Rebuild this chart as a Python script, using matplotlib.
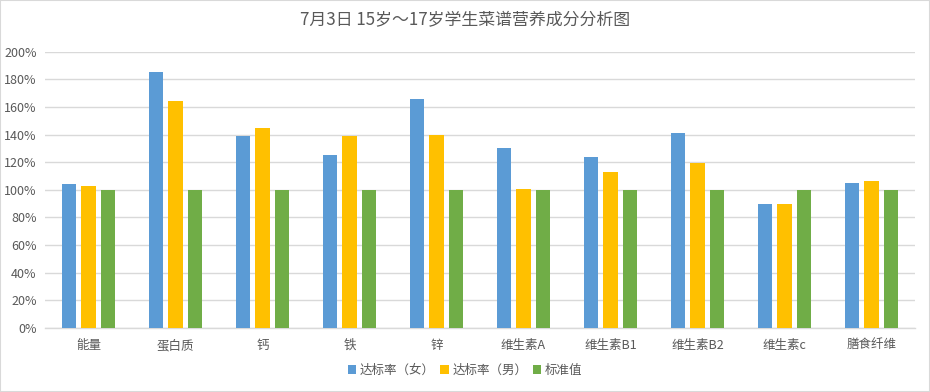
import matplotlib
matplotlib.use("Agg")
import matplotlib.pyplot as plt
import numpy as np
from matplotlib.ticker import FuncFormatter

plt.rcParams['font.family'] = ['Noto Sans CJK SC', 'DejaVu Sans']

categories = ["能量", "蛋白质", "钙", "铁", "锌", "维生素A", "维生素B1", "维生素B2", "维生素c", "膳食纤维"]
female = [104, 185.5, 139, 125, 166, 130, 123.6, 141, 89.5, 104.7]
male = [103, 164.5, 144.7, 139, 139.6, 100.5, 112.7, 119.6, 89.5, 106.2]
standard = [100, 100, 100, 100, 100, 100, 100, 100, 100, 100]
series_names = ["达标率（女）", "达标率（男）", "标准值"]
colors = ["#5B9BD5", "#FFC000", "#70AD47"]

fig = plt.figure(figsize=(9.3, 3.92), dpi=100)
ax = fig.add_axes([45/930, 1-328/392, 870/930, (328-51.7)/392])

x = np.arange(len(categories))
w = 0.172
off = 0.224
for i, (vals, name, c) in enumerate(zip([female, male, standard], series_names, colors)):
    ax.bar(x + (i-1)*off, vals, width=w, color=c, label=name, zorder=3)

ax.set_xlim(-0.5, len(categories)-0.5)
ax.set_ylim(0, 200)
ax.set_yticks(np.arange(0, 201, 20))
ax.yaxis.set_major_formatter(FuncFormatter(lambda v, p: f"{int(v)}%"))
ax.grid(axis='y', color='#d9d9d9', linewidth=1, zorder=0)
for s in ['top', 'right', 'left']:
    ax.spines[s].set_visible(False)
ax.spines['bottom'].set_color('#d9d9d9')
ax.spines['bottom'].set_linewidth(1)
ax.set_xticks(x)
ax.set_xticklabels(categories)
ax.tick_params(axis='both', length=0, colors='#595959', labelsize=9)
ax.tick_params(axis='x', pad=8)
ax.tick_params(axis='y', pad=6)

fig.suptitle("7月3日 15岁～17岁学生菜谱营养成分分析图", y=1-20/392, va='center',
             fontsize=12.2, color='#595959')

fig.legend(loc='center', bbox_to_anchor=(0.5, 1-370/392), ncol=3, frameon=False,
           fontsize=9, handlelength=0.7, handleheight=0.7, handletextpad=0.3,
           columnspacing=0.4, labelcolor='#595959')

# outer border
fig.patches.append(plt.Rectangle((0, 0), 1, 1, transform=fig.transFigure,
                                 fill=False, edgecolor='#d9d9d9', linewidth=1.5))

fig.savefig("out.png", dpi=100)
